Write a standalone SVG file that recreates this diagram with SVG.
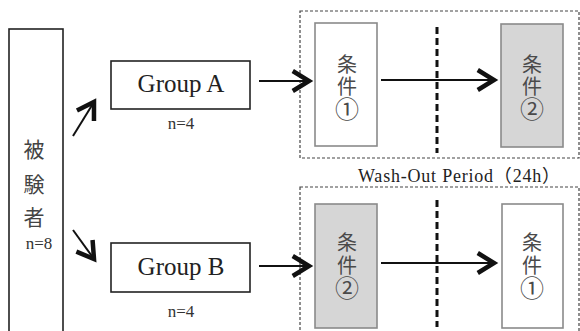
<svg xmlns="http://www.w3.org/2000/svg" width="580" height="331" viewBox="0 0 580 331">
<style>
.box{fill:#fff;stroke:#222;stroke-width:1.6}
.cond{stroke:#8a8a8a;stroke-width:1.6}
.c1{fill:#fff}
.c2{fill:#d6d6d6}
.frame{fill:none;stroke:#444;stroke-width:1.2;stroke-dasharray:3 2}
.vdash{stroke:#111;stroke-width:3;stroke-dasharray:7 4}
.lat{font-family:"Liberation Serif","Noto Sans CJK JP",serif;fill:#222}
.sm{fill:#333;font-size:17px;text-anchor:middle}
.jp{font-family:"Noto Sans CJK JP",sans-serif;fill:#444;text-anchor:middle;font-size:21px}
.jc{font-family:"Noto Sans CJK JP",sans-serif;fill:#4a4a4a;text-anchor:middle;font-size:20px}
.num{font-size:24px}
.arr{stroke:#111;stroke-width:2;fill:none;marker-end:url(#ah)}
</style>
<defs>
<marker id="ah" markerUnits="userSpaceOnUse" markerWidth="30" markerHeight="30" viewBox="-16 -12 20 24" refX="0" refY="0" orient="auto">
<path d="M-13,-8 L0,0 L-13,8" fill="none" stroke="#111" stroke-width="3.6" stroke-linejoin="miter"/>
</marker>
</defs>
<rect width="580" height="331" fill="#fff"/>

<g id="frames">
<rect class="frame" x="300" y="11" width="279" height="147"/>
<rect class="frame" x="300" y="187" width="279" height="160"/>
</g>

<g id="subjects">
<rect class="box" x="9" y="29" width="54" height="320"/>
<text class="jp" x="34" y="157">被</text>
<text class="jp" x="34" y="192">験</text>
<text class="jp" x="34" y="225">者</text>
<text class="lat sm" x="39" y="249" font-size="16">n=8</text>
</g>

<g id="groupA">
<rect class="box" x="111" y="61" width="139" height="48"/>
<text class="lat" x="181" y="92" font-size="25" text-anchor="middle">Group A</text>
<text class="lat sm" x="181" y="129">n=4</text>
</g>

<g id="groupB">
<rect class="box" x="111" y="243" width="139" height="49"/>
<text class="lat" x="181" y="275" font-size="25" text-anchor="middle">Group B</text>
<text class="lat sm" x="181" y="317">n=4</text>
</g>

<g id="condA1">
<rect class="cond c1" x="315" y="23" width="62" height="123"/>
<text class="jc" x="347" y="72">条</text>
<text class="jc" x="347" y="94">件</text>
<text class="jc num" x="347" y="118">①</text>
</g>

<g id="condA2">
<rect class="cond c2" x="501" y="24" width="62" height="123"/>
<text class="jc" x="532" y="72">条</text>
<text class="jc" x="532" y="94">件</text>
<text class="jc num" x="532" y="118">②</text>
</g>

<g id="condB2">
<rect class="cond c2" x="315" y="204" width="62" height="124"/>
<text class="jc" x="347" y="250">条</text>
<text class="jc" x="347" y="273">件</text>
<text class="jc num" x="347" y="297">②</text>
</g>

<g id="condB1">
<rect class="cond c1" x="502" y="204" width="61" height="124"/>
<text class="jc" x="532" y="250">条</text>
<text class="jc" x="532" y="273">件</text>
<text class="jc num" x="532" y="297">①</text>
</g>

<g id="washout">
<line class="vdash" x1="437" y1="27" x2="437" y2="153"/>
<line class="vdash" x1="437" y1="200" x2="437" y2="327"/>
<text class="lat" x="358" y="182" font-size="18" textLength="202" lengthAdjust="spacing">Wash-Out Period（24h）</text>
</g>

<g id="connectors">
<line class="arr" x1="73" y1="136" x2="94" y2="102"/>
<line class="arr" x1="73" y1="230" x2="94" y2="259"/>
<line class="arr" x1="259" y1="81" x2="309" y2="81"/>
<line class="arr" x1="259" y1="266" x2="309" y2="266"/>
<line class="arr" x1="381" y1="80" x2="494" y2="80"/>
<line class="arr" x1="381" y1="263" x2="494" y2="263"/>
</g>
</svg>
